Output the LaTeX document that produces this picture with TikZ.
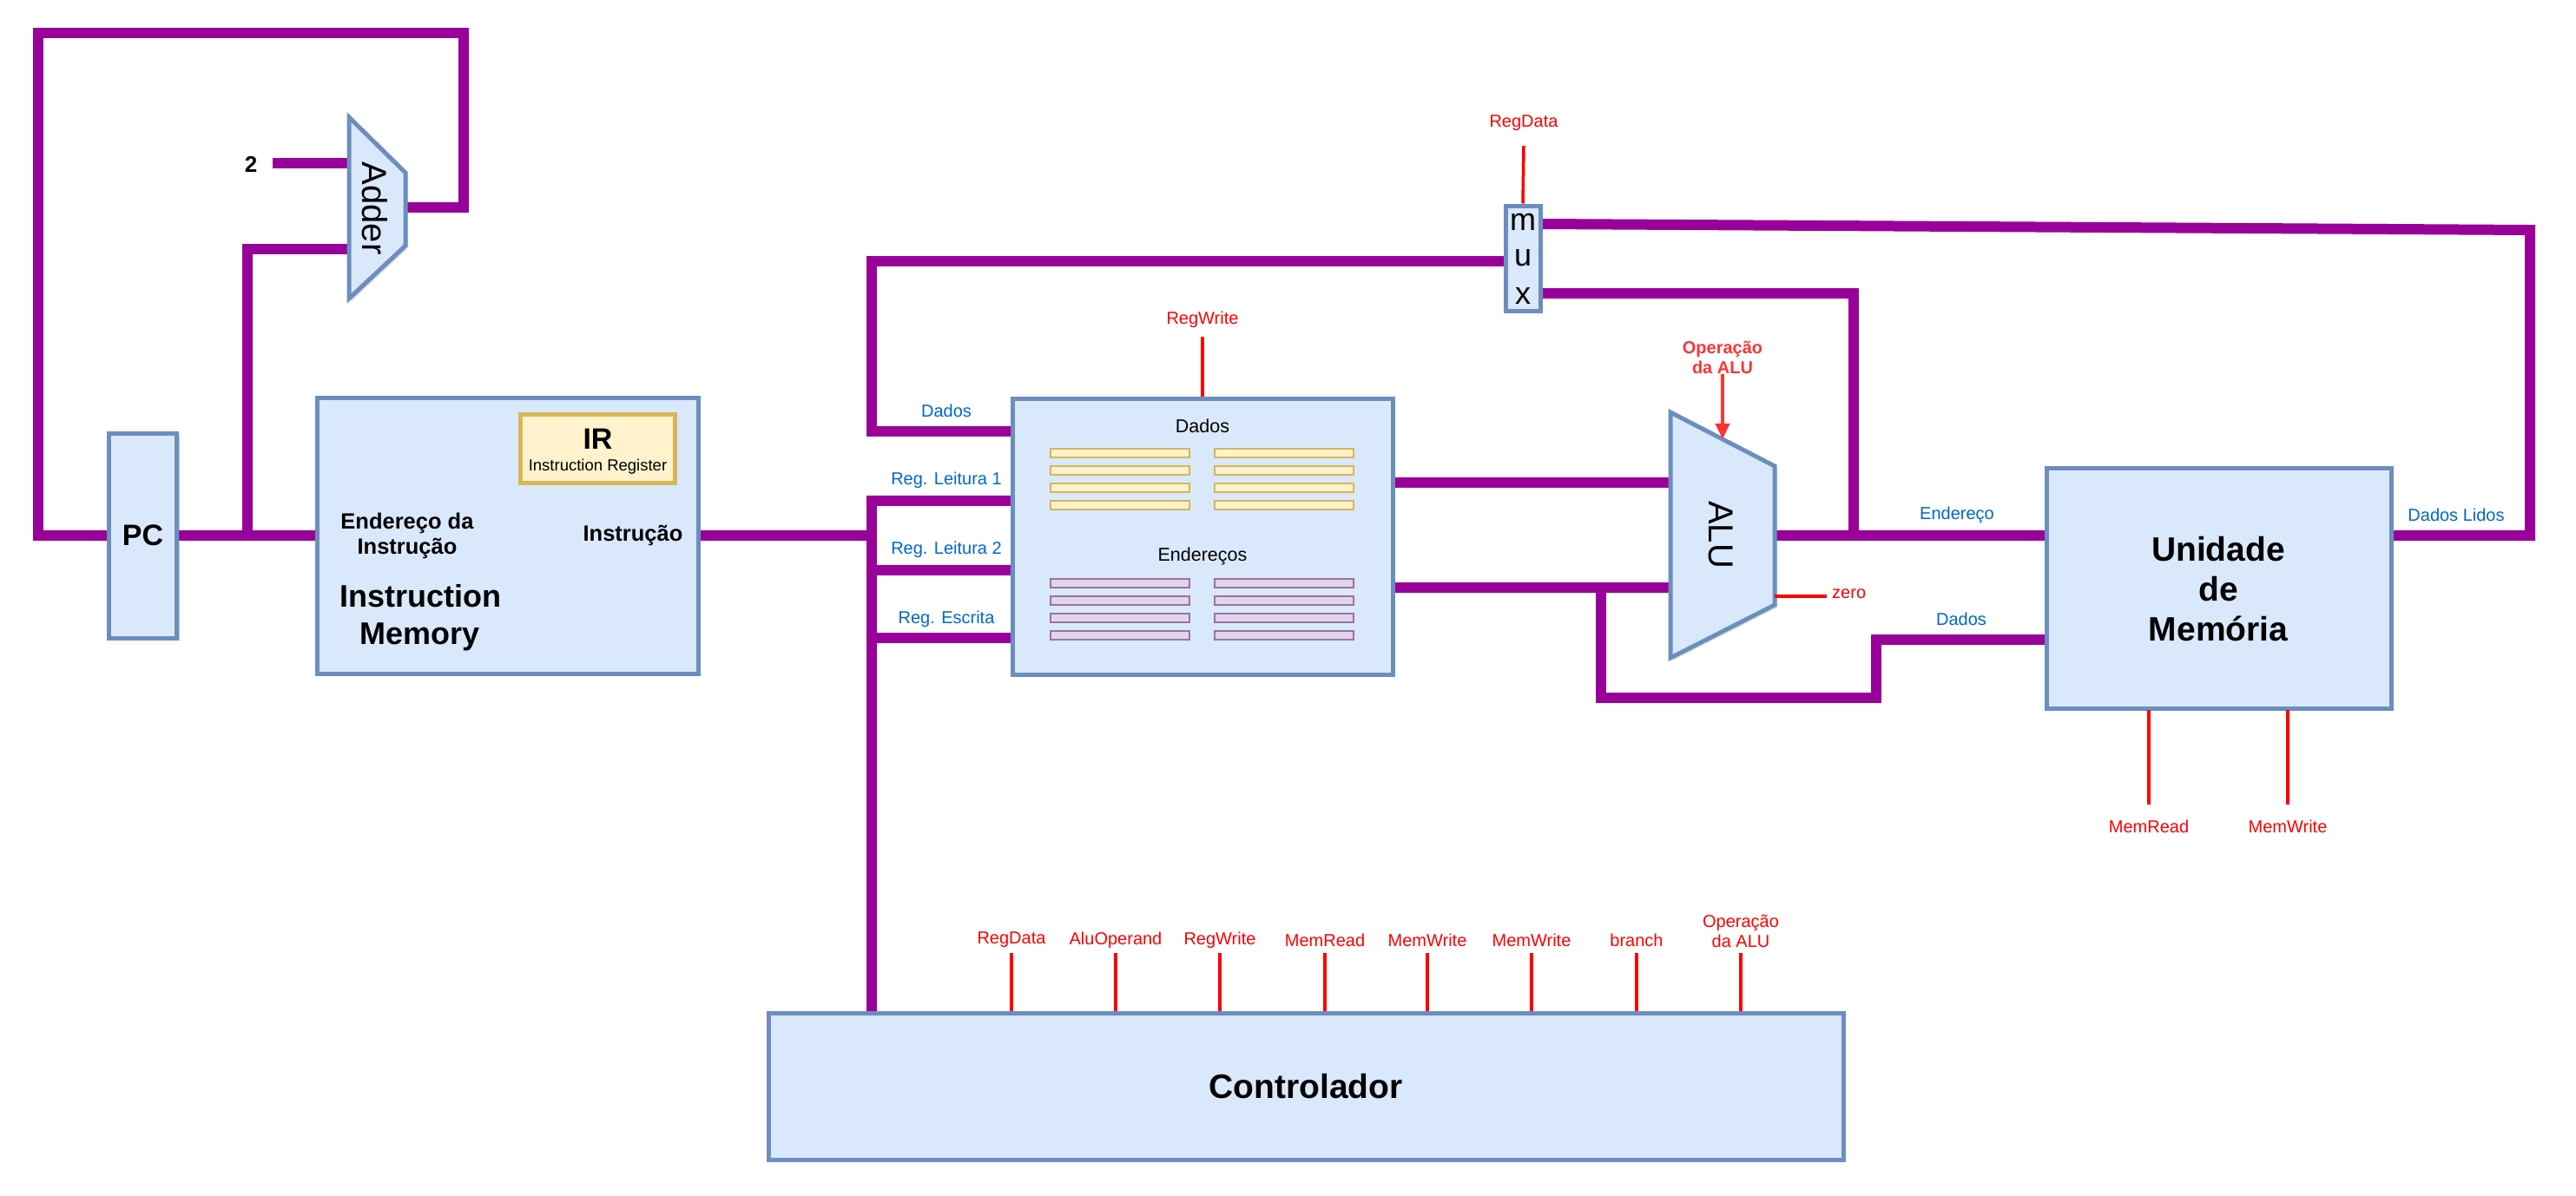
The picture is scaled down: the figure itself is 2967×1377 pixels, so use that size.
\documentclass[tikz,border=0pt]{standalone}
\usepackage{fontspec}
\setmainfont{Liberation Sans}
\usetikzlibrary{arrows.meta,shadows}
\definecolor{wirec}{HTML}{990099}
\definecolor{boxf}{HTML}{DAE8FC}
\definecolor{boxb}{HTML}{6C8EBF}
\definecolor{yelf}{HTML}{FFF2CC}
\definecolor{yelb}{HTML}{D6B656}
\definecolor{purf}{HTML}{E1D5E7}
\definecolor{purb}{HTML}{9673A6}
\definecolor{labblue}{HTML}{0066CC}
\definecolor{opred}{HTML}{FF3333}
\begin{document}
\begin{tikzpicture}[x=1pt,y=-1pt,
  wire/.style={draw=wirec,line width=12pt,line join=miter},
  shad/.style={drop shadow={shadow xshift=3pt,shadow yshift=-3pt,opacity=0.25}},
  box/.style={draw=boxb,fill=boxf,line width=5pt,inner sep=0pt,align=center,shad},
  ctl/.style={draw=red,line width=3.5pt},
  rlab/.style={text=red,font=\fontsize{20}{23}\selectfont,inner sep=0pt,align=center},
  blab/.style={text=labblue,font=\fontsize{20}{23}\selectfont,inner sep=0pt},
  bbig/.style={font=\bfseries\fontsize{39}{46}\selectfont,align=center},
  bmid/.style={font=\bfseries\fontsize{25.5}{30}\selectfont,align=center,inner sep=0pt},
  ybar/.style={draw=yelb,fill=yelf,line width=1.5pt},
  pbar/.style={draw=purb,fill=purf,line width=1.5pt},
  rot/.style={font=\fontsize{40}{46}\selectfont,rotate=-90,inner sep=0pt}
]
\useasboundingbox (0,0) rectangle (2967,1377);

% ---------- boxes (as nodes, drawn after wires via layers of order) ----------
\path
  node[box,minimum width=78pt,minimum height=236pt] (pc) at (164.5,617) {}
  node[box,minimum width=439pt,minimum height=318pt] (im) at (584.5,617) {}
  node[box,minimum width=438pt,minimum height=318pt] (rf) at (1385,618) {}
  node[box,minimum width=397pt,minimum height=277pt] (mem) at (2555.5,677.5) {}
  node[box,minimum width=1238pt,minimum height=169pt] (ctrl) at (1504,1251.5) {}
  node[box,minimum width=40pt,minimum height=121pt] (mux) at (1754,297.5) {};

% ---------- ports ----------
\coordinate (addin2) at (402,188);
\coordinate (addin1) at (402,287);
\coordinate (addout) at (467,239);
\coordinate (alu1) at (1924,556);
\coordinate (alu2) at (1924,677);
\coordinate (aluout) at (2044,617);
\coordinate (aluop) at (1984,506);
\coordinate (aluzero) at (2044,687);
\coordinate (twoend) at (314,188);

% ---------- wires ----------
\draw[wire] (pc.west) -| (44,38) -| (534,239) -- (addout);
\draw[wire] (pc.east) -- (im.west);
\draw[wire] (285,617) |- (addin1);
\draw[wire] (twoend) -- (addin2);
\draw[wire] (im.east) -- (1004,617);
\draw[wire] (1004,1165) -- (1004,577) -- (rf.west |- 0,577);
\draw[wire] (1004,657) -- (rf.west |- 0,657);
\draw[wire] (1004,735) -- (rf.west |- 0,735);
\draw[wire] (mux.west |- 0,301) -| (1004,497) -- (rf.west |- 0,497);
\draw[wire] (rf.east |- 0,556) -- (alu1);
\draw[wire] (rf.east |- 0,677) -- (alu2);
\draw[wire] (1844,677) |- (2161,804) |- (mem.west |- 0,737);
\draw[wire] (aluout) -- (mem.west |- aluout);
\draw[wire] (2135,617) |- (mux.east |- 0,338);
\draw[wire] (mem.east |- 0,617) -| (2914,265) -- (mux.east |- 0,258);

% ---------- redraw boxes on top of wires ----------
\path
  node[box,minimum width=78pt,minimum height=236pt] at (pc) {}
  node[box,minimum width=439pt,minimum height=318pt] at (im) {}
  node[box,minimum width=438pt,minimum height=318pt] at (rf) {}
  node[box,minimum width=397pt,minimum height=277pt] at (mem) {}
  node[box,minimum width=1238pt,minimum height=169pt] at (ctrl) {}
  node[box,minimum width=40pt,minimum height=121pt] at (mux) {};

% ---------- trapezoids ----------
\draw[draw=boxb,fill=boxf,line width=5pt,shad] (402,135) -- (467,199) -- (467,283) -- (402,344) -- cycle;
\draw[draw=boxb,fill=boxf,line width=5pt,shad] (1924,475) -- (2044,537) -- (2044,697) -- (1924,758) -- cycle;
\node[rot] (addertxt) at (432,240) {Adder};
\node[rot] (alutxt) at (1982,616) {ALU};

% ---------- texts in boxes ----------
\node[font=\bfseries\fontsize{34}{40}\selectfont] (pctxt) at (pc) {PC};
\node[draw=yelb,fill=yelf,line width=5pt,minimum width=178pt,minimum height=79pt,inner sep=0pt] (ir) at (688.5,517) {};
\node[font=\bfseries\fontsize{34}{40}\selectfont,inner sep=0pt] (irt) at (688.5,506) {IR};
\node[font=\fontsize{18.5}{22}\selectfont,inner sep=0pt] (irs) at (688.5,538) {Instruction Register};
\node[bmid] (endi) at (469,617) {Endereço da\\[-1pt]Instrução};
\node[bmid] (instr) at (729,617) {Instrução};
\node[font=\bfseries\fontsize{36}{43}\selectfont,align=center,inner sep=0pt] (imname) at (484,712) {Instruction\\Memory};
\node[bbig] (memname) at (2555,679) {Unidade\\de\\Memória};
\node[bbig] (ctrlname) at (ctrl) {Controlador};
\node[font=\bfseries\fontsize{26}{30}\selectfont] (two) at (289,189) {2};

\node[font=\fontsize{36}{40}\selectfont,inner sep=0pt] (mm) at (1754,256) {m};
\node[font=\fontsize{36}{40}\selectfont,inner sep=0pt] (mu) at (1754,297) {u};
\node[font=\fontsize{36}{40}\selectfont,inner sep=0pt] (mx) at (1754,341) {x};

% register file contents
\node[font=\fontsize{21.5}{25}\selectfont] (rfd) at (1385,491) {Dados};
\node[font=\fontsize{21.5}{25}\selectfont] (rfe) at (1385,641) {Endereços};
\foreach \yy in {522,542,562,582}{
  \draw[ybar] (1210,\yy-5) rectangle (1370,\yy+5);
  \draw[ybar] (1399,\yy-5) rectangle (1559,\yy+5);
}
\foreach \yy in {672,692,712,732}{
  \draw[pbar] (1210,\yy-5) rectangle (1370,\yy+5);
  \draw[pbar] (1399,\yy-5) rectangle (1559,\yy+5);
}

% ---------- blue labels ----------
\node[blab] (lDados) at (1090,473) {Dados};
\node[blab] (lRL1) at (1090,553) {Reg. Leitura 1};
\node[blab] (lRL2) at (1090,633) {Reg. Leitura 2};
\node[blab] (lRE) at (1090,713) {Reg. Escrita};
\node[blab] (lEnd) at (2254,593) {Endereço};
\node[blab] (lMD) at (2259,713) {Dados};
\node[blab] (lDL) at (2829,593) {Dados Lidos};

% ---------- control signals ----------
\node[rlab] (sRegData) at (1755,142) {RegData};
\draw[ctl] (1755,168) -- (mux.north);
\node[rlab] (sRegWrite) at (1385,368) {RegWrite};
\draw[ctl] (1385,388) -- (rf.north);
\node[text=opred,font=\bfseries\fontsize{20}{23}\selectfont,align=center,inner sep=0pt] (sOp) at (1984,412) {Operação\\da ALU};
\draw[draw=opred,line width=4pt,-{Triangle[length=18pt,width=16pt]}] (sOp.south) -- (aluop);
\draw[ctl] (aluzero) -- (2104,687);
\node[rlab,anchor=west] (szero) at (2110,684) {zero};
\draw[ctl] (2475,818) -- (2475,927);
\node[rlab] (sMR) at (2475,952) {MemRead};
\draw[ctl] (2635,818) -- (2635,927);
\node[rlab] (sMW) at (2635,952) {MemWrite};

\foreach \xx/\lab [count=\i] in {1165/RegData,1285/AluOperand,1405/RegWrite,1526/MemRead,1644/MemWrite,1764/MemWrite,1885/branch}{
  \node[rlab] (c\i) at (\xx,1083) {\lab};
  \draw[ctl] (\xx,1098) -- (\xx,1165);
}
\node[rlab] (c8) at (2005,1073) {Operação\\da ALU};
\draw[ctl] (2005,1098) -- (2005,1165);
\end{tikzpicture}
\end{document}
